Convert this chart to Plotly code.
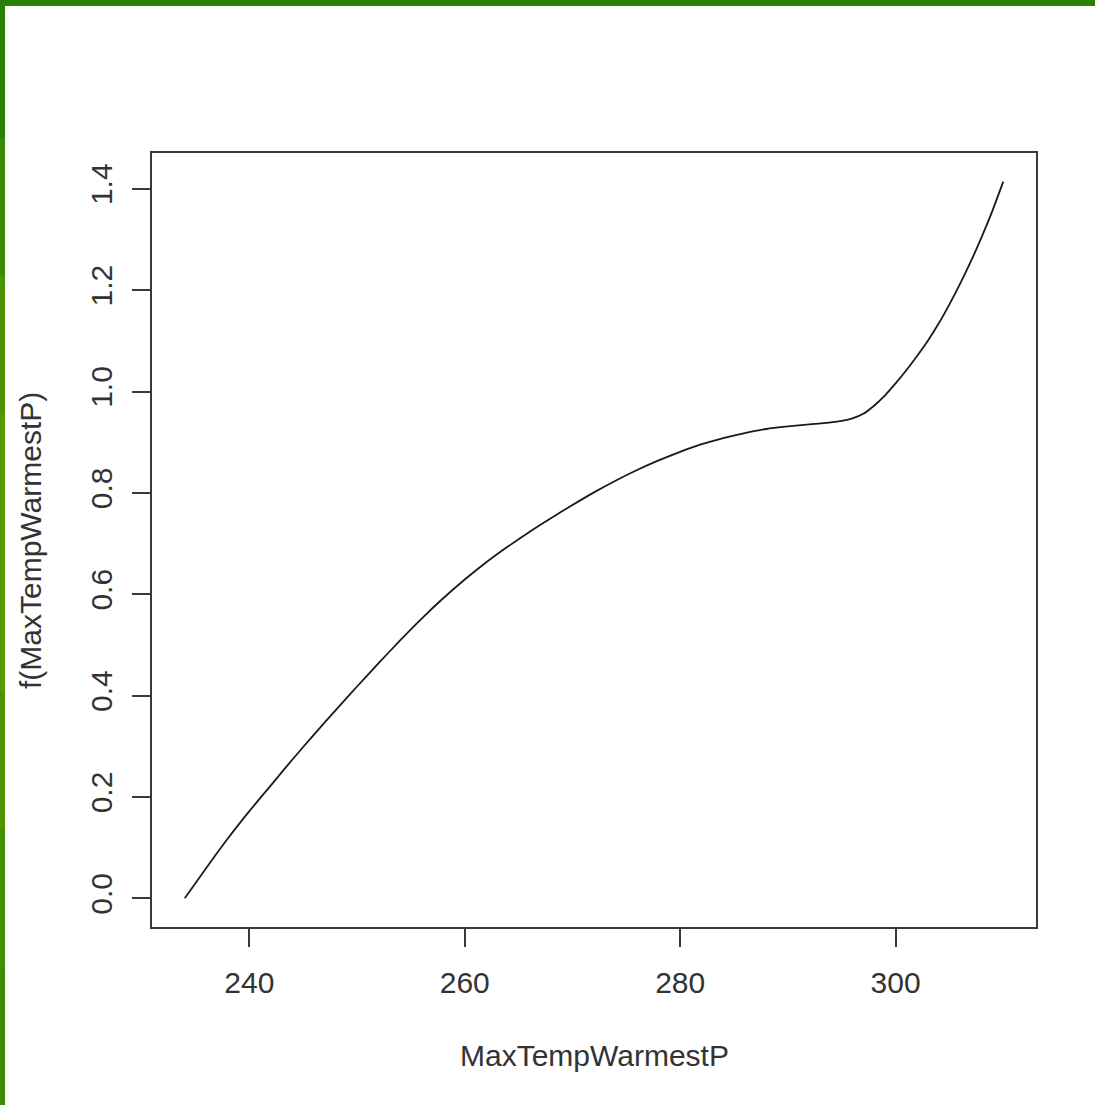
import plotly.graph_objects as go

# smooth term
temp = [234, 236, 238, 240, 242, 244, 246, 248, 250, 252, 254, 256, 258, 260,
        262, 264, 266, 268, 270, 272, 274, 276, 278, 280, 282, 284, 286, 288,
        290, 292, 294, 295, 296, 297, 298, 299, 300, 301, 302, 303, 304, 305,
        306, 307, 308, 309, 310]
f_temp = [0.0, 0.06, 0.118, 0.172, 0.223, 0.274, 0.323, 0.371, 0.418, 0.464,
          0.509, 0.552, 0.592, 0.629, 0.663, 0.694, 0.723, 0.750, 0.776, 0.801,
          0.824, 0.845, 0.864, 0.881, 0.896, 0.908, 0.918, 0.926, 0.931, 0.935,
          0.939, 0.942, 0.947, 0.956, 0.972, 0.992, 1.016, 1.042, 1.070, 1.100,
          1.134, 1.172, 1.213, 1.257, 1.305, 1.357, 1.414]

x_ticks = [240, 260, 280, 300]
y_ticks = [0.0, 0.2, 0.4, 0.6, 0.8, 1.0, 1.2, 1.4]

W, H = 1095, 1105
L, R, T, B = 152, 59, 153, 178
pw, ph = W - L - R, H - T - B

# R-style 4% padding
xpad = (max(temp) - min(temp)) * 0.04
ypad = (max(f_temp) - min(f_temp)) * 0.04

font = dict(family="Liberation Sans, Arial", size=30, color="#333333")
axis_col = "#3a3a3a"

fig = go.Figure(
    go.Scatter(x=temp, y=f_temp, mode="lines",
               line=dict(color="#1a1a1a", width=1.8, shape="spline",
                         smoothing=0.6),
               showlegend=False)
)

common = dict(showgrid=False, zeroline=False, showline=True, mirror=True,
              linecolor=axis_col, linewidth=2, ticks="outside", ticklen=18,
              tickwidth=2, tickcolor=axis_col, tickfont=font)

fig.update_xaxes(range=[min(temp) - xpad, max(temp) + xpad],
                 tickvals=x_ticks, ticktext=[str(v) for v in x_ticks],
                 ticklabelstandoff=10, **common)
fig.update_yaxes(range=[min(f_temp) - ypad, max(f_temp) + ypad],
                 tickvals=y_ticks, ticktext=[f"{v:.1f}" for v in y_ticks],
                 tickangle=-90, ticklabelstandoff=8, **common)


# green frame of the original screenshot (top bar + shaded left bar)
def px_x(p):
    return (p - L) / pw


def px_y(p):
    return (H - B - p) / ph


shapes = []
left_cols = ["#2a8000", "#3a8a00", "#4c9300", "#5a9a00", "#5a9900",
             "#4f9400", "#448e00", "#3c8a00"]
seg = H / len(left_cols)
for i, c in enumerate(left_cols):
    shapes.append(dict(type="rect", xref="paper", yref="paper",
                       x0=px_x(0), x1=px_x(5), y0=px_y((i + 1) * seg + 2),
                       y1=px_y(i * seg), fillcolor=c, line=dict(width=0),
                       layer="above"))
shapes.append(dict(type="rect", xref="paper", yref="paper",
                   x0=px_x(0), x1=px_x(W), y0=px_y(6), y1=px_y(0),
                   fillcolor="#2a8000", line=dict(width=0), layer="above"))

fig.update_layout(
    width=W, height=H,
    margin=dict(l=L, r=R, t=T, b=B),
    paper_bgcolor="white", plot_bgcolor="white",
    shapes=shapes,
    annotations=[
        dict(text="MaxTempWarmestP", xref="paper", yref="paper",
             x=0.5, y=px_y(1055), xanchor="center", yanchor="middle",
             showarrow=False, font=font),
        dict(text="f(MaxTempWarmestP)", xref="paper", yref="paper",
             x=px_x(30), y=0.5, xanchor="center", yanchor="middle",
             textangle=-90, showarrow=False, font=font),
    ],
)

# drop the default page margin so the figure sits at the window origin
fig.write_html(
    "out.html",
    config={"displayModeBar": False},
    post_script="document.body.style.margin='0';"
                "document.body.style.overflow='hidden';",
)
